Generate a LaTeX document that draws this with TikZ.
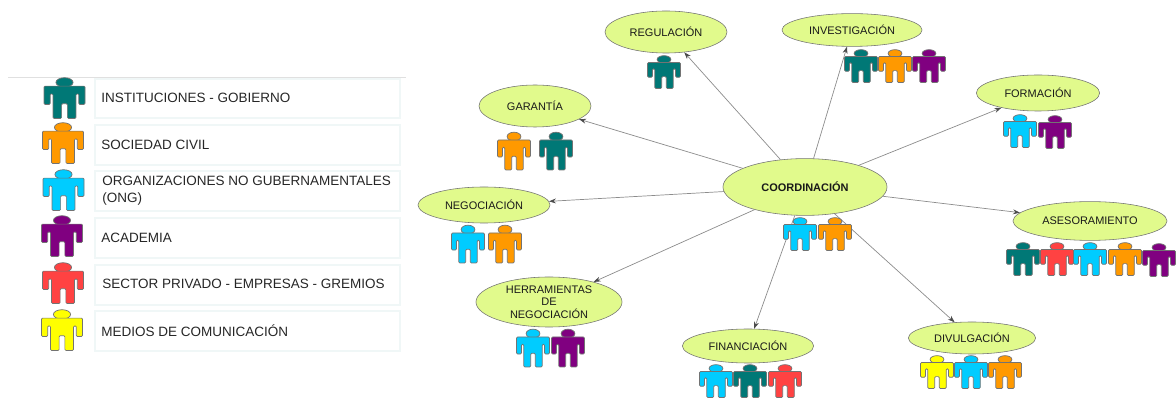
\documentclass[tikz,border=0pt]{standalone}
\usepackage{fontspec}
\setmainfont{Liberation Sans}
\usetikzlibrary{shapes.geometric,arrows.meta}
\definecolor{verdeazul}{RGB}{0,120,118}
\definecolor{naranja}{RGB}{255,153,0}
\definecolor{celeste}{RGB}{0,204,255}
\definecolor{morado}{RGB}{128,0,128}
\definecolor{rojo}{RGB}{255,66,66}
\definecolor{amarillo}{RGB}{255,255,0}
\definecolor{lima}{RGB}{225,250,140}
\definecolor{palido}{RGB}{240,247,247}
\tikzset{
    pics/persona/.style={code={
        \draw[fill=#1, draw=black!55, line width=0.5pt] (0,-0.38) ellipse (0.21 and 0.115);
        \draw[fill=#1, draw=black!55, line width=0.5pt, line join=round, rounded corners=0.8pt]
            (-0.5,-0.29) -- (0.5,-0.29) -- (0.5,0.16) -- (0.35,0.16) -- (0.35,-0.1) -- (0.28,-0.1)
            -- (0.28,0.5) -- (0.07,0.5) -- (0.07,0.14) -- (-0.07,0.14) -- (-0.07,0.5) -- (-0.28,0.5)
            -- (-0.28,-0.1) -- (-0.35,-0.1) -- (-0.35,0.16) -- (-0.5,0.16) -- cycle;
    }},
    chico/.style={xscale=33, yscale=33},
    alto/.style={xscale=33, yscale=38},
    grande/.style={xscale=41, yscale=41},
    tema/.style={ellipse, draw=black!55, fill=lima, inner sep=0pt, text=black!90, font=\fontsize{7.8}{8.75}\selectfont, align=center},
    fila/.style={draw=palido, line width=0.8pt},
    rotulo/.style={anchor=west, font=\fontsize{9.6}{11.9}\selectfont, text=black!85, align=left, inner sep=0pt},
    enlace/.style={draw=black!45, line width=0.5pt, -{Stealth[length=5pt,width=3.5pt,black!70]}}
}
\begin{document}
\begin{tikzpicture}[x=0.025cm, y=-0.025cm]
    \useasboundingbox (0,0) rectangle (1176,398);

    % Leyenda
    \draw[black!12] (8,77) -- (406,77);
    \draw[fila] (95,79) rectangle (400,118);
    \draw[fila] (95,125) rectangle (400,165);
    \draw[fila] (95,171) rectangle (400,211);
    \draw[fila] (95,218) rectangle (400,258);
    \draw[fila] (95,265) rectangle (400,305);
    \draw[fila] (95,311) rectangle (400,351);
    \node[rotulo] (inst) at (101,98) {INSTITUCIONES - GOBIERNO};
    \node[rotulo] (soci) at (101,145) {SOCIEDAD CIVIL};
    \node[rotulo] (ongs) at (102,191) {ORGANIZACIONES NO GUBERNAMENTALES\\(ONG)};
    \node[rotulo] (acad) at (101,238) {ACADEMIA};
    \node[rotulo] (priv) at (102,284) {SECTOR PRIVADO - EMPRESAS - GREMIOS};
    \node[rotulo] (medi) at (101,331) {MEDIOS DE COMUNICACIÓN};
    \pic[grande] at (64.5,98) {persona=verdeazul};
    \pic[grande] at (63,143) {persona=naranja};
    \pic[grande] at (63.5,190) {persona=celeste};
    \pic[grande] at (62,236) {persona=morado};
    \pic[grande] at (63,283) {persona=rojo};
    \pic[grande] at (62,330) {persona=amarillo};

    % Temas
    \node[tema, font=\fontsize{7.8}{8.75}\selectfont\bfseries, minimum width=4.1cm, minimum height=1.42cm] (coord) at (805,187) {COORDINACIÓN};
    \node[tema, minimum width=3.05cm, minimum height=1.05cm] (regu) at (666,32) {REGULACIÓN};
    \node[tema, minimum width=3.5cm, minimum height=0.82cm] (inve) at (852,30) {INVESTIGACIÓN};
    \node[tema, minimum width=3.08cm, minimum height=0.9cm] (form) at (1038,93) {FORMACIÓN};
    \node[tema, minimum width=2.8cm, minimum height=1.05cm] (gara) at (535,106) {GARANTÍA};
    \node[tema, minimum width=3.3cm, minimum height=0.9cm] (nego) at (484,205) {NEGOCIACIÓN};
    \node[tema, minimum width=3.85cm, minimum height=0.97cm] (ases) at (1090,221) {ASESORAMIENTO};
    \node[tema, minimum width=3.65cm, minimum height=1.25cm] (herr) at (549,302) {HERRAMIENTAS\\DE\\NEGOCIACIÓN};
    \node[tema, minimum width=3.28cm, minimum height=0.85cm] (fina) at (748,346) {FINANCIACIÓN};
    \node[tema, minimum width=3.18cm, minimum height=0.8cm] (divu) at (972,338) {DIVULGACIÓN};

    % Enlaces
    \foreach \destino in {regu,inve,form,gara,nego,ases,herr,fina,divu}
        \draw[enlace] (coord) -- (\destino);

    % Personas
    \pic[chico] at (664,72) {persona=verdeazul};
    \pic[chico] at (861,66) {persona=verdeazul};
    \pic[chico] at (895,66) {persona=naranja};
    \pic[chico] at (929,66) {persona=morado};
    \pic[chico] at (1020,131) {persona=celeste};
    \pic[chico] at (1055,132) {persona=morado};
    \pic[alto] at (514,151) {persona=naranja};
    \pic[alto] at (556,151) {persona=verdeazul};
    \pic[alto] at (468,244) {persona=celeste};
    \pic[alto] at (505,244) {persona=naranja};
    \pic[chico] at (800,234) {persona=celeste};
    \pic[chico] at (835,234) {persona=naranja};
    \pic[chico] at (1023,259) {persona=verdeazul};
    \pic[chico] at (1057,259) {persona=rojo};
    \pic[chico] at (1090,259) {persona=celeste};
    \pic[chico] at (1125,259) {persona=naranja};
    \pic[chico] at (1159,260) {persona=morado};
    \pic[alto] at (533,348) {persona=celeste};
    \pic[alto] at (568,348) {persona=morado};
    \pic[chico] at (716,381) {persona=celeste};
    \pic[chico] at (750,381) {persona=verdeazul};
    \pic[chico] at (785,381) {persona=rojo};
    \pic[chico] at (937,372) {persona=amarillo};
    \pic[chico] at (971,372) {persona=celeste};
    \pic[chico] at (1005,372) {persona=naranja};
\end{tikzpicture}
\end{document}
